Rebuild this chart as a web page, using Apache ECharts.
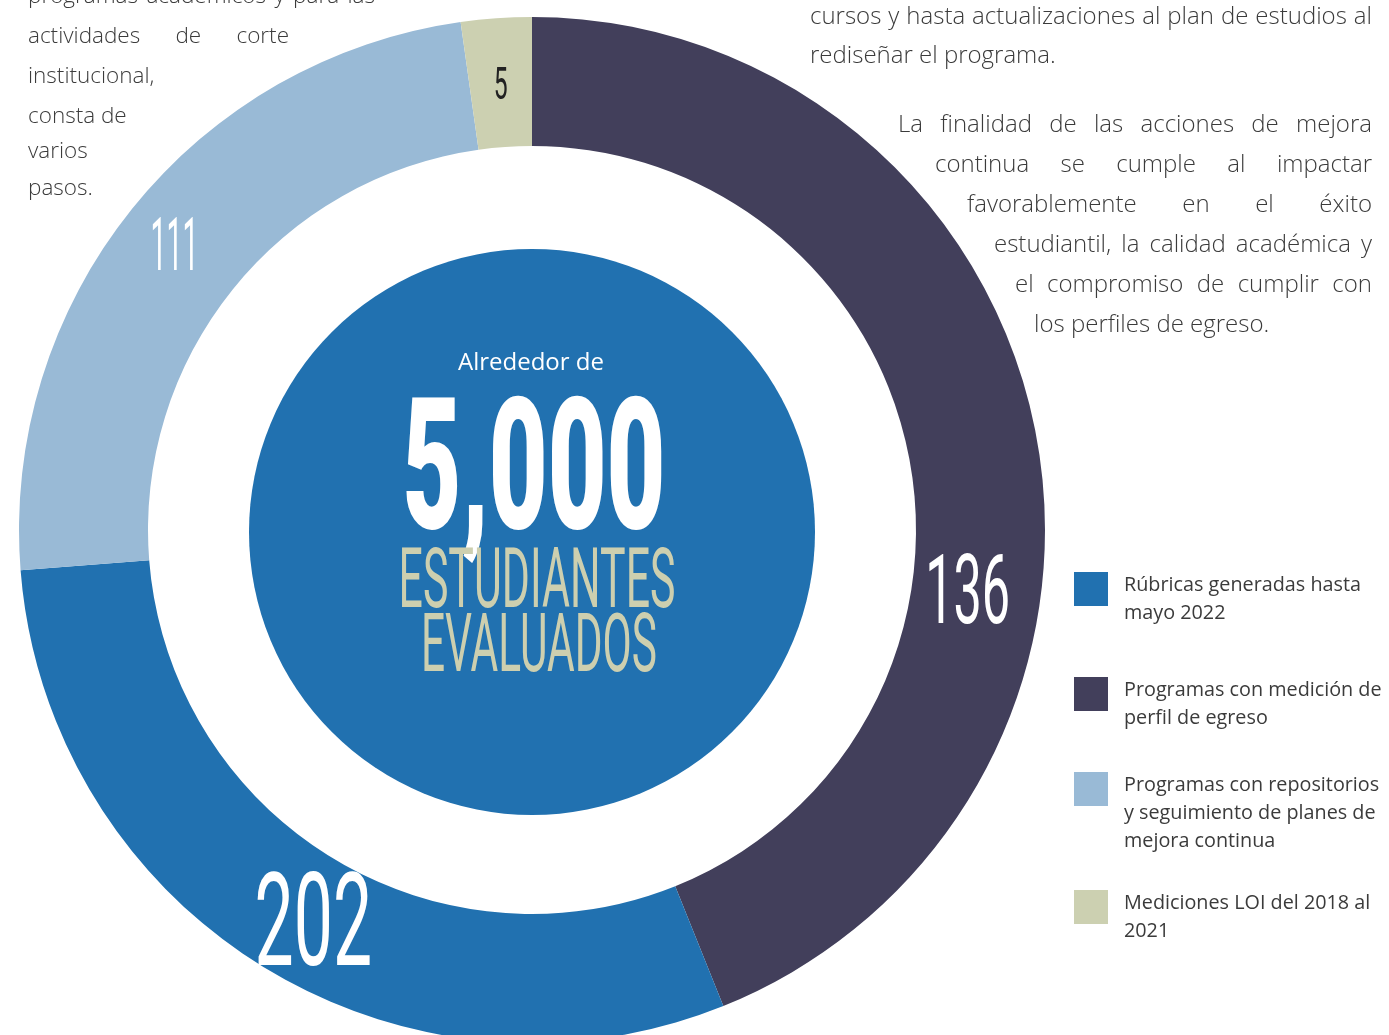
<!DOCTYPE html>
<html>
<head>
<meta charset="utf-8">
<script src="https://cdn.jsdelivr.net/npm/echarts@6/dist/echarts.min.js"></script>
<style>
html, body { margin: 0; padding: 0; background: #fff; }
#chart { width: 1389px; height: 1035px; }
</style>
</head>
<body>
<div id="chart"></div>
<script>
// legend order
var categories = [
  'Rúbricas generadas hasta mayo 2022',
  'Programas con medición de perfil de egreso',
  'Programas con repositorios y seguimiento de planes de mejora continua',
  'Mediciones LOI del 2018 al 2021'
];
var valueLabels = ['202', '136', '111', '5'];
// how much of the ring each slice takes in the drawing (degrees)
var ringShare = [107.4, 158.1, 86.5, 8.0];
var colors = ['#2171b0', '#423f5b', '#99bad6', '#ccd0b1'];
// pie starts at 12 o'clock and runs clockwise
var drawOrder = [1, 0, 2, 3];

var legendLines = [
  ['Rúbricas generadas hasta', 'mayo 2022'],
  ['Programas con medición de', 'perfil de egreso'],
  ['Programas con repositorios', 'y seguimiento de planes de', 'mejora continua'],
  ['Mediciones LOI del 2018 al', '2021']
];
var centerLines = ['Alrededor de', '5,000', 'ESTUDIANTES', 'EVALUADOS'];
var leftText = [
  'programas académicos y para las',
  'actividades de corte',
  'institucional,',
  'consta de',
  'varios',
  'pasos.'
];
var rightTopText = [
  'cursos y hasta actualizaciones al plan de estudios al',
  'rediseñar el programa.'
];
var rightBodyText = [
  'La finalidad de las acciones de mejora',
  'continua se cumple al impactar',
  'favorablemente en el éxito',
  'estudiantil, la calidad académica y',
  'el compromiso de cumplir con',
  'los perfiles de egreso.'
];

var chart = echarts.init(document.getElementById('chart'));

var ctx = document.createElement('canvas').getContext('2d');
function textWidth(str, font) {
  ctx.font = font;
  return ctx.measureText(str).width;
}

var leftFont = '300 22.5px "Open Sans"';
var rightFont = '300 24px "Open Sans"';
var bodyColor = '#3b3b3b';

function plain(str, x, y, font, fill, align) {
  return {
    type: 'text', x: x, y: y, z: 100, silent: true,
    style: { text: str, font: font, fill: fill, align: align || 'left', verticalAlign: 'middle' }
  };
}

function justified(line, left, right, y, font, fill) {
  var words = line.split(' ');
  var widths = words.map(function (w) { return textWidth(w, font); });
  var total = widths.reduce(function (a, b) { return a + b; }, 0);
  var gap = words.length > 1 ? (right - left - total) / (words.length - 1) : 0;
  var x = left;
  var out = [];
  words.forEach(function (w, i) {
    out.push(plain(w, x, y, font, fill));
    x += widths[i] + gap;
  });
  return out;
}

function condensed(str, x, y, font, targetW, fill) {
  return {
    type: 'text', x: x, y: y, z: 100, silent: true,
    scaleX: targetW / textWidth(str, font),
    style: { text: str, font: font, fill: fill, align: 'center', verticalAlign: 'middle' }
  };
}

var option = {
  animation: false,
  series: [
    {
      type: 'pie',
      center: [532, 530],
      radius: [384, 513],
      startAngle: 90,
      clockwise: true,
      silent: true,
      label: { show: false },
      labelLine: { show: false },
      emphasis: { disabled: true },
      data: drawOrder.map(function (i) {
        return { name: categories[i], value: ringShare[i], itemStyle: { color: colors[i] } };
      })
    },
    {
      type: 'pie',
      center: [532, 532],
      radius: [0, 283],
      silent: true,
      label: { show: false },
      labelLine: { show: false },
      emphasis: { disabled: true },
      data: [{ name: 'centro', value: 1, itemStyle: { color: colors[0] } }]
    }
  ]
};
chart.setOption(option);

// value labels sit on the ring, positioned from the pie's own layout
var labelStyle = [
  { size: 129, color: '#fff', shift: -2.4, dr: -3, scale: 0.54 },
  { size: 97, color: '#fff', shift: 18.5, dr: -9, scale: 0.52 },
  { size: 75, color: '#fff', shift: 0, dr: 10, scale: 0.38 },
  { size: 45, color: '#222', shift: 0, dr: 0, scale: 0.55 }
];
var pieData = chart.getModel().getSeriesByIndex(0).getData();
var graphics = [];
drawOrder.forEach(function (catIdx, dataIdx) {
  var lay = pieData.getItemLayout(dataIdx);
  var st = labelStyle[catIdx];
  var mid = (lay.startAngle + lay.endAngle) / 2 + st.shift * Math.PI / 180;
  var r = (lay.r + lay.r0) / 2 + st.dr;
  graphics.push({
    type: 'text', z: 100, silent: true,
    x: lay.cx + r * Math.cos(mid),
    y: lay.cy + r * Math.sin(mid) + 0.11 * st.size,
    scaleX: st.scale,
    style: {
      text: valueLabels[catIdx], font: '400 ' + st.size + 'px Roboto',
      fill: st.color, align: 'center', verticalAlign: 'middle'
    }
  });
});

// centre block
graphics.push(plain(centerLines[0], 531, 363, '400 24px "Open Sans"', '#ffffff', 'center'));
graphics.push(condensed(centerLines[1], 534, 482, '900 184px Roboto', 263, '#ffffff'));
graphics.push(condensed(centerLines[2], 537, 586, '400 83px Roboto', 277, '#cdcfaf'));
graphics.push(condensed(centerLines[3], 539, 650, '400 82px Roboto', 236, '#cdcfaf'));

// left column text
var leftY = [-3, 37, 77, 117, 152, 189];
graphics = graphics.concat(justified(leftText[0], 28, 375, leftY[0], leftFont, bodyColor));
graphics = graphics.concat(justified(leftText[1], 28, 289, leftY[1], leftFont, bodyColor));
for (var i = 2; i < leftText.length; i++) {
  graphics.push(plain(leftText[i], 28, leftY[i], leftFont, bodyColor));
}

// right column text
graphics = graphics.concat(justified(rightTopText[0], 810, 1372, 17, rightFont, bodyColor));
graphics.push(plain(rightTopText[1], 810, 56, rightFont, bodyColor));
var bodyLeft = [898, 935, 967, 994, 1015, 1034];
rightBodyText.forEach(function (line, k) {
  var y = 125 + k * 40;
  if (k < rightBodyText.length - 1) {
    graphics = graphics.concat(justified(line, bodyLeft[k], 1372, y, rightFont, bodyColor));
  } else {
    graphics.push(plain(line, bodyLeft[k], y, rightFont, bodyColor));
  }
});

// legend
var legendTop = [572, 677, 772, 890];
categories.forEach(function (c, k) {
  graphics.push({
    type: 'rect', z: 100, silent: true,
    shape: { x: 1074, y: legendTop[k], width: 34, height: 34 },
    style: { fill: colors[k] }
  });
  legendLines[k].forEach(function (ln, j) {
    graphics.push(plain(ln, 1124, legendTop[k] + 13 + j * 28, '400 19.8px "Open Sans"', '#3b3b3b'));
  });
});

chart.setOption({ graphic: graphics });
</script>
</body>
</html>
